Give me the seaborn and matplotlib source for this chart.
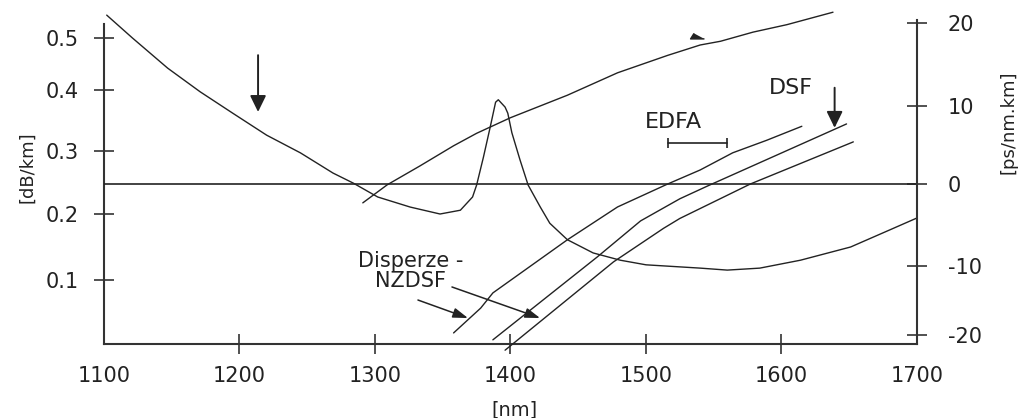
import numpy as np
import matplotlib
matplotlib.use("Agg")
import matplotlib.pyplot as plt
import seaborn as sns

# attenuation of standard fibre [dB/km]
att_nm = [1102, 1121, 1147, 1171, 1195, 1220, 1245, 1269, 1284, 1302, 1326, 1348,
          1363, 1372, 1375, 1380, 1385, 1389, 1391, 1396, 1398, 1401, 1407, 1413,
          1422, 1429, 1442, 1461, 1481, 1500, 1540, 1560, 1584, 1614, 1651, 1680, 1700]
att_db = [0.544, 0.500, 0.442, 0.397, 0.362, 0.326, 0.297, 0.265, 0.249, 0.227, 0.211, 0.200,
          0.206, 0.227, 0.246, 0.290, 0.339, 0.380, 0.384, 0.372, 0.362, 0.330, 0.286, 0.246,
          0.211, 0.186, 0.161, 0.141, 0.130, 0.123, 0.118, 0.115, 0.118, 0.130, 0.150, 0.176, 0.194]

# dispersion of standard fibre [ps/nm.km]
smf_nm = [1291, 1309, 1333, 1358, 1375, 1400, 1442, 1479, 1516, 1540, 1555, 1579, 1604, 1638]
smf_d = [-2.3, -0.1, 2.3, 4.9, 6.5, 8.5, 11.3, 14.0, 16.1, 17.35, 17.8, 18.9, 19.8, 21.3]

# NZDSF (two curves) and DSF
nz1_nm = [1358, 1378, 1387, 1442, 1479, 1516, 1540, 1564, 1589, 1615]
nz1_d = [-19.7, -16.1, -13.9, -6.8, -2.8, 0.0, 1.8, 4.0, 5.6, 7.4]
dsf_nm = [1387, 1464, 1496, 1525, 1546, 1648]
dsf_d = [-20.7, -8.9, -4.5, -1.8, -0.2, 7.7]
nz2_nm = [1396, 1476, 1513, 1525, 1577, 1653]
nz2_d = [-22.2, -9.5, -5.4, -4.2, 0.0, 5.4]

edfa_band = [1516, 1560]
x_ticks = [1100, 1200, 1300, 1400, 1500, 1600, 1700]
left_ticks = [0.1, 0.2, 0.3, 0.4, 0.5]
right_ticks = [-20, -10, 0, 10, 20]

# the scanned axes are not evenly spaced -> piecewise scale knots
left_knots = np.array([-0.1, 0.0, 0.1, 0.2, 0.3, 0.4, 0.5, 0.6, 0.7])
left_pos = -np.array([408, 344, 280, 214, 151, 90, 38, -14, -66], dtype=float)
right_knots = np.array([-30, -20, -10, 0, 10, 20, 30], dtype=float)
right_pos = -np.array([404, 335, 266, 184, 106, 23, -60], dtype=float)


def make_scale(knots, pos):
    def fwd(v):
        return np.interp(v, knots, pos)

    def inv(p):
        return np.interp(p, pos, knots)
    return fwd, inv


sns.set_theme(style="ticks")
plt.rcParams["font.family"] = ["DejaVu Sans"]
plt.rcParams["axes.unicode_minus"] = False

ink = "#222222"
fig = plt.figure(figsize=(10.25, 4.18), dpi=100)
ax = fig.add_axes([104 / 1025, 74 / 418, 813 / 1025, 336 / 418])
ax2 = ax.twinx()

ax.set_yscale("function", functions=make_scale(left_knots, left_pos))
ax2.set_yscale("function", functions=make_scale(right_knots, right_pos))
ax.set_xlim(1100, 1700)
ax.set_ylim(0, 0.5577)
ax2.set_ylim(-21.304, 21.807)

sns.lineplot(x=att_nm, y=att_db, ax=ax, color=ink, lw=1.0)
for xs, ys in [(smf_nm, smf_d), (nz1_nm, nz1_d), (dsf_nm, dsf_d), (nz2_nm, nz2_d)]:
    sns.lineplot(x=xs, y=ys, ax=ax2, color=ink, lw=1.0)
for ln in ax.lines + ax2.lines:
    ln.set_clip_on(False)
ax2.axhline(0, color=ink, lw=1.2)

# EDFA band marker
ax2.plot(edfa_band, [5.26, 5.26], color=ink, lw=1.2, marker="|", markersize=7, mew=1.2)
ax2.text(1520, 7.95, "EDFA", ha="center", va="center", fontsize=16, color=ink)
ax2.text(1607, 12.2, "DSF", ha="center", va="center", fontsize=16, color=ink)
ax2.text(1326, -10.7, "Disperze -\nNZDSF", ha="center", va="center", fontsize=15,
         color=ink, linespacing=1.0, multialignment="center")

big = dict(arrowstyle="-|>,head_length=0.45,head_width=0.22", color=ink, lw=1.4,
           mutation_scale=22, shrinkA=0, shrinkB=0)
small = dict(arrowstyle="-|>,head_length=0.6,head_width=0.2", color=ink, lw=1.1,
             mutation_scale=15, shrinkA=0, shrinkB=0)
ax.annotate("", xy=(1213.7, 0.364), xytext=(1213.7, 0.467), arrowprops=big)
ax2.annotate("", xy=(1639.2, 7.2), xytext=(1639.2, 12.2), arrowprops=big)
ax2.annotate("", xy=(1368.6, -17.54), xytext=(1331.7, -14.93), arrowprops=small)
ax2.annotate("", xy=(1421.8, -17.54), xytext=(1356.8, -13.04), arrowprops=small)
ax2.plot([1538], [18.4], marker=[(-0.5, 0.45), (-1, -0.35), (1, -0.35)],
         markersize=10, color=ink, clip_on=False)

# axes styling
for side in ["top", "right"]:
    ax.spines[side].set_visible(False)
for side in ["top", "left", "bottom"]:
    ax2.spines[side].set_visible(False)
for sp in [ax.spines["left"], ax.spines["bottom"], ax2.spines["right"]]:
    sp.set_color("#333333")
    sp.set_linewidth(1.5)
ax.spines["left"].set_bounds(0, 0.527)
ax2.spines["right"].set_bounds(-21.304, 20.36)

ax.set_xticks(x_ticks)
ax.set_yticks(left_ticks)
ax.set_yticklabels([f"{v:.1f}" for v in left_ticks])
ax2.set_yticks(right_ticks)
ax2.set_yticklabels([str(v) for v in right_ticks])
ax.minorticks_off()
ax2.minorticks_off()
ax.tick_params(axis="x", direction="inout", length=14, width=1.2, pad=8.5,
               labelsize=15, color="#333333", labelcolor=ink)
ax.tick_params(axis="y", direction="inout", length=14, width=1.2, pad=11,
               labelsize=15, color="#333333", labelcolor=ink)
ax2.tick_params(axis="y", direction="inout", length=14, width=1.2, pad=15,
                labelsize=15, color="#333333", labelcolor=ink)
for t in (ax.xaxis.get_major_ticks()[0], ax.xaxis.get_major_ticks()[-1]):
    t.tick1line.set_visible(False)

ax.set_xlabel("[nm]", fontsize=14, color=ink)
ax.xaxis.set_label_coords(0.505, -0.167)
ax.set_ylabel("[dB/km]", fontsize=13, color=ink)
ax.yaxis.set_label_coords(-0.083, 0.527)
ax2.set_ylabel("[ps/nm.km]", fontsize=13, color=ink)
ax2.yaxis.set_label_coords(1.102, 0.661)

fig.savefig("out.png", dpi=100)
